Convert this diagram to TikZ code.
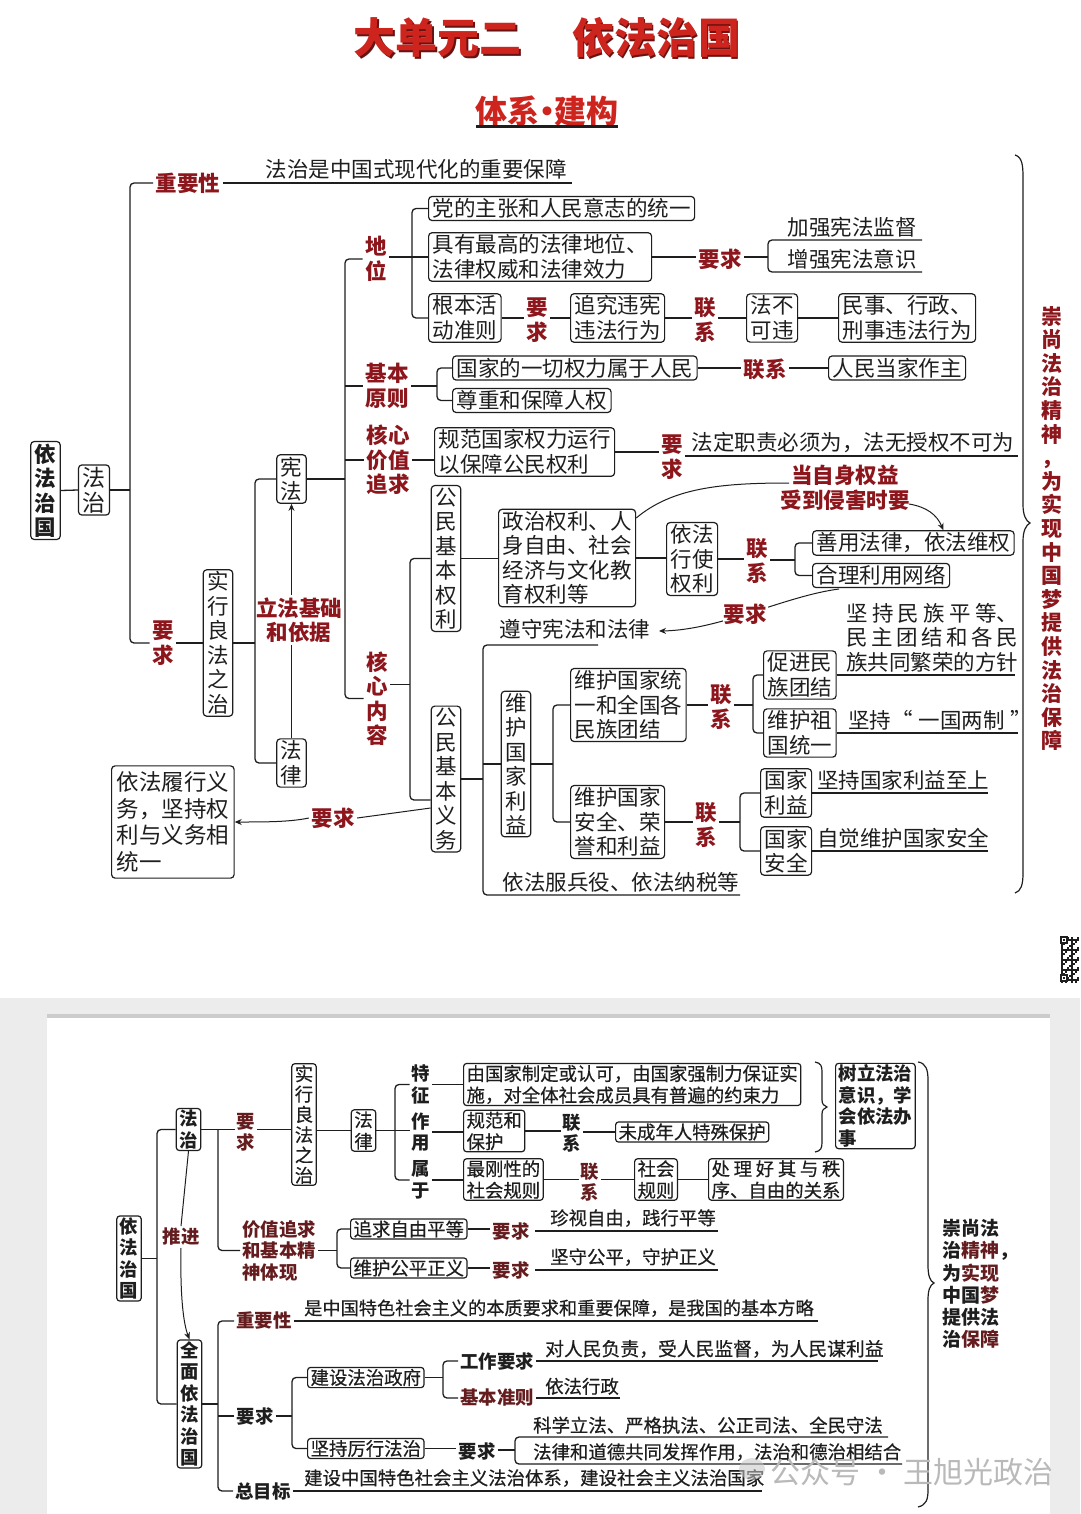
\documentclass[tikz,border=0pt]{standalone}
\usepackage{fontspec}
\setmainfont{Noto Sans CJK SC}
\newfontfamily\medfont{Noto Sans CJK SC}[FakeBold=0.5]
\usetikzlibrary{arrows.meta}
\definecolor{titred}{RGB}{206,36,30}
\definecolor{titsh}{RGB}{105,18,18}
\definecolor{labred}{RGB}{140,22,28}
\definecolor{botred}{RGB}{100,28,30}
\definecolor{lc}{RGB}{30,30,30}
\definecolor{bggray}{RGB}{236,236,236}
\newcommand\fsz[2]{\fontsize{#1}{#2}\selectfont}
\begin{document}
\begin{tikzpicture}[x=1pt,y=-1pt,
  every node/.style={inner sep=0pt},
  conn/.style={line width=1.3pt, draw=lc, rounded corners=4pt},
  thinl/.style={line width=1pt, draw=lc},
  arr/.style={-{Stealth[length=7pt,width=6pt]}},
  bx/.style={draw=lc, line width=1.2pt, rounded corners=3.5pt, inner xsep=4pt, inner ysep=2pt, align=left, font=\fsz{21.5}{24.5}, text=lc},
  vbx/.style={bx, align=center},
  lab/.style={text=labred, font=\bfseries\fsz{21.5}{24.5}, align=center, inner sep=2.5pt},
  txt/.style={font=\fsz{21.5}{24.5}, align=left, inner sep=0pt, text=lc},
  bbx/.style={draw=lc, line width=1.2pt, rounded corners=3pt, inner xsep=3pt, inner ysep=1.5pt, align=left, font=\medfont\fsz{18.4}{21.5}, text=lc},
  bvbx/.style={bbx, align=center},
  blab/.style={text=botred, font=\bfseries\fsz{18.4}{21.5}, align=center, inner sep=2pt},
  bblk/.style={text=lc, font=\bfseries\fsz{18.4}{21.5}, align=center, inner sep=2pt},
  btxt/.style={font=\medfont\fsz{18.4}{21.5}, align=left, inner sep=0pt, text=lc},
  brc/.style={line width=1.2pt, draw=lc}
]
\useasboundingbox (0,0) rectangle (1080,1514);
\fill[white] (0,0) rectangle (1080,1514);

% ---------------- Titles ----------------
\node[text=titsh, font=\bfseries\fsz{42}{42}] (titsh) at (548.5,39.5) {大单元二\hspace{1.2em}依法治国};
\node[text=titred, font=\bfseries\fsz{42}{42}] (title) at (547,38) {大单元二\hspace{1.2em}依法治国};
\node[text=titred, font=\bfseries\fsz{32}{32}] (sub) at (547,111) {体系\hspace{-0.28em}·\hspace{-0.28em}建构};
\draw[line width=2.2pt, lc] (sub.south west) -- (sub.south east);

% ---------------- Top tree ----------------
\node[vbx, font=\bfseries\fsz{21.5}{24.5}] (yfzg) at (45.5,490.5) {依\\法\\治\\国};
\node[vbx, font=\fsz{23}{25}] (fz) at (94,490) {法\\治};
\draw[conn] (yfzg.east) -- (fz.west);
\coordinate (sA) at (130,400);
\node[lab] (zys) at (188,183) {重要性};
\node[lab] (yqA) at (163,643) {要\\求};
\draw[conn] (zys.west) -| (sA) |- (yqA.west);
\draw[conn] (fz.east) -- (fz.east -| sA);
\coordinate (zyE) at (572,183);
\draw[conn] (zys.east) -- (zyE);
\node[txt, anchor=south] (zyT) at (416,179) {法治是中国式现代化的重要保障};

\node[vbx] (sxl) at (218,643) {实\\行\\良\\法\\之\\治};
\draw[conn] (yqA.east) -- (yqA.east -| sxl.west);
\coordinate (sB) at (255,620);
\node[vbx] (xf) at (291.5,479) {宪\\法};
\node[vbx] (fl) at (291.5,763) {法\\律};
\draw[conn] (xf.west) -| (sB) |- (fl.west);
\draw[conn] (sxl.east) -- (sxl.east -| sB);
\node[lab] (lfjc) at (299,620) {立法基础\\和依据};
\draw[thinl] (fl.north) -- (fl.north |- lfjc.south);
\draw[thinl, arr] (xf.south |- lfjc.north) -- (xf.south);

\coordinate (sC) at (345,480);
\node[lab] (dw) at (376,259) {地\\位};
\node[lab] (jbyz) at (387,386) {基本\\原则};
\node[lab] (hxjz) at (388,460) {核心\\价值\\追求};
\node[lab] (hxnr) at (377,698.5) {核\\心\\内\\容};
\draw[conn] (dw.west) -| (sC) |- (hxnr.west);
\draw[conn] (jbyz.west) -- (jbyz.west -| sC);
\draw[conn] (hxjz.west) -- (hxjz.west -| sC);
\draw[conn] (xf.east) -- (xf.east -| sC);

% 地位
\coordinate (sD) at (412,260);
\node[bx, anchor=west] (b1) at (428,208.5) {党的主张和人民意志的统一};
\node[bx, anchor=west] (b2) at (428,257) {具有最高的法律地位、\\法律权威和法律效力};
\node[bx, anchor=west] (b3) at (428,318) {根本活\\动准则};
\draw[conn] (b1.west) -| (sD) |- (b3.west);
\draw[conn] (dw.east |- b2.west) -- (b2.west);
\node[lab] (yqB) at (720,259) {要求};
\draw[conn] (b2.east) -- (b2.east -| yqB.west);
\coordinate (sE) at (768,257);
\coordinate (eTop) at (922,240);
\coordinate (eBot) at (922,272);
\draw[conn] (eTop) -| (sE) |- (eBot);
\draw[conn] (yqB.east |- sE) -- (sE);
\node[txt, anchor=south] (jqjd) at (852,238) {加强宪法监督};
\node[txt, anchor=south] (zqyx) at (852,270) {增强宪法意识};

\node[lab] (yqC) at (537,320) {要\\求};
\node[bx, anchor=west] (b4) at (570,318) {追究违宪\\违法行为};
\node[lab] (lxA) at (705,320) {联\\系};
\node[bx, anchor=west] (b5) at (746,318) {法不\\可违};
\node[bx, anchor=west] (b6) at (838,318) {民事、行政、\\刑事违法行为};
\draw[conn] (b3.east) -- (b3.east -| yqC.west);
\draw[conn] (yqC.east |- b4.west) -- (b4.west);
\draw[conn] (b4.east) -- (b4.east -| lxA.west);
\draw[conn] (lxA.east |- b5.west) -- (b5.west);
\draw[conn] (b5.east) -- (b6.west);

% 基本原则
\coordinate (sF) at (437,386);
\node[bx, anchor=west] (b7) at (452,368) {国家的一切权力属于人民};
\node[bx, anchor=west] (b8) at (452,400.5) {尊重和保障人权};
\draw[conn] (b7.west) -| (sF) |- (b8.west);
\draw[conn] (jbyz.east) -- (jbyz.east -| sF);
\node[lab] (lxB) at (765,369) {联系};
\node[bx, anchor=west] (b9) at (828,368) {人民当家作主};
\draw[conn] (b7.east) -- (b7.east -| lxB.west);
\draw[conn] (lxB.east |- b9.west) -- (b9.west);

% 核心价值追求
\node[bx, anchor=west] (b10) at (434,452) {规范国家权力运行\\以保障公民权利};
\draw[conn] (hxjz.east) -- (hxjz.east -| b10.west);
\node[lab] (yqD) at (672,457) {要\\求};
\draw[conn] (b10.east) -- (b10.east -| yqD.west);
\coordinate (fdE) at (1018,456);
\draw[conn] (yqD.east |- fdE) -- (fdE);
\node[txt, anchor=south] (fdzz) at (853,453) {法定职责必须为，法无授权不可为};

% 核心内容
\coordinate (sG) at (410,680);
\node[vbx] (b11) at (446,558.5) {公\\民\\基\\本\\权\\利};
\node[vbx] (b12) at (446,779) {公\\民\\基\\本\\义\\务};
\coordinate (b12w) at ([yshift=-21pt]b12.west);
\draw[conn] (b11.west) -| (sG) |- (b12w);
\coordinate (hxE) at ([yshift=14pt]hxnr.east);
\draw[conn] (hxE) -- (hxE -| sG);

\node[bx, anchor=west] (b13) at (498,558) {政治权利、人\\身自由、社会\\经济与文化教\\育权利等};
\draw[conn] (b11.east) -- (b11.east -| b13.west);
\node[bx, anchor=west, align=center] (b14) at (666,559) {依法\\行使\\权利};
\draw[conn] (b13.east) -- (b13.east -| b14.west);
\node[lab] (lxC) at (757,561) {联\\系};
\coordinate (sH) at (795,560);
\node[bx, anchor=west] (b15) at (812,543) {善用法律，依法维权};
\node[bx, anchor=west] (b16) at (812,575.5) {合理利用网络};
\draw[conn] (b14.east) -- (b14.east -| lxC.west);
\draw[conn] (lxC.east |- sH) -- (sH);
\draw[conn] (b15.west) -| (sH) |- (b16.west);

\node[lab] (qy) at (845,488) {当自身权益\\受到侵害时要};
\coordinate (qA) at (789,483);
\coordinate (qB) at (909,504);
\coordinate (b13ne) at ([yshift=40pt]b13.east);
\draw[thinl] (b13ne) .. controls (672,488) and (720,483) .. (qA);
\coordinate (b15n) at ([xshift=30pt]b15.north);
\draw[thinl, arr] (qB) .. controls (927,507) and (937,515) .. (b15n);

\node[txt] (zsxf) at (575,629) {遵守宪法和法律};
\coordinate (wA) at (839,589);
\coordinate (wB) at (659,631);
\draw[thinl, arr] (wA) .. controls (785,596) and (720,630) .. (wB);
\node[lab, fill=white, inner sep=1pt] (yqE) at (745,614) {要求};

% 公民基本义务
\coordinate (sI) at (483,770);
\coordinate (zsL) at (598,645);
\coordinate (fbE) at (740,895);
\draw[conn] (zsL) -| (sI) |- (fbE);
\draw[conn] (b12.east) -- (b12.east -| sI);
\node[txt, anchor=south] (fbyy) at (621,892) {依法服兵役、依法纳税等};
\node[vbx] (b17) at (516,764) {维\\护\\国\\家\\利\\益};
\draw[conn] (b17.west -| sI) -- (b17.west);
\coordinate (sJ) at (553,764);
\node[bx, anchor=west] (b18) at (570,705) {维护国家统\\一和全国各\\民族团结};
\node[bx, anchor=west] (b19) at (570,822) {维护国家\\安全、荣\\誉和利益};
\draw[conn] (b18.west) -| (sJ) |- (b19.west);
\draw[conn] (b17.east) -- (b17.east -| sJ);
\node[lab] (lxD) at (721,707) {联\\系};
\coordinate (sK) at (753,705);
\node[bx, anchor=west] (b20) at (763,675) {促进民\\族团结};
\node[bx, anchor=west] (b21) at (763,733) {维护祖\\国统一};
\draw[conn] (b18.east) -- (b18.east -| lxD.west);
\draw[conn] (lxD.east |- sK) -- (sK);
\draw[conn] (b20.west) -| (sK) |- (b21.west);
\coordinate (mzE) at (1015,676);
\draw[conn] (b20.east) -- (b20.east -| mzE);
\node[txt, anchor=south west] (mzpd) at (846,672) {\makebox[8em][s]{坚\hfil 持\hfil 民\hfil 族\hfil 平\hfil 等、}\\\makebox[8em][s]{民\hfil 主\hfil 团\hfil 结\hfil 和\hfil 各\hfil 民}\\族共同繁荣的方针};
\coordinate (ygE) at (1018,733);
\draw[conn] (b21.east) -- (b21.east -| ygE);
\node[txt, anchor=south west] (ygld) at (848,730) {坚持“\;一国两制\;”};

\node[lab] (lxE) at (706,825) {联\\系};
\coordinate (sL) at (740,822);
\node[bx, anchor=west] (b22) at (760,793) {国家\\利益};
\node[bx, anchor=west] (b23) at (760,851) {国家\\安全};
\draw[conn] (b19.east) -- (b19.east -| lxE.west);
\draw[conn] (lxE.east |- sL) -- (sL);
\draw[conn] (b22.west) -| (sL) |- (b23.west);
\coordinate (gjE) at (988,793);
\draw[conn] (b22.east) -- (b22.east -| gjE);
\node[txt, anchor=south west] (gjls) at (817,790) {坚持国家利益至上};
\coordinate (aqE) at (988,851);
\draw[conn] (b23.east) -- (b23.east -| aqE);
\node[txt, anchor=south west] (zjwh) at (817,848) {自觉维护国家安全};

\node[bx, anchor=west, font=\fsz{22.5}{26.5}, inner xsep=5pt, inner ysep=6pt] (b24) at (111,822) {依法履行义\\务，坚持权\\利与义务相\\统一};
\node[lab] (yqF) at (333,818) {要求};
\coordinate (b12a) at ([yshift=-29pt]b12.west);
\draw[thinl] (b12a) -- (yqF.east);
\draw[thinl, arr] (yqF.west) .. controls (290,822) and (265,822) .. (b24.east);

% right brace and text
\draw[brc] (1015,155) .. controls (1022,157) and (1023,165) .. (1023,177) -- (1023,505) .. controls (1023,515) and (1026,521) .. (1030,523) .. controls (1026,525) and (1023,531) .. (1023,541) -- (1023,873) .. controls (1023,885) and (1021,891) .. (1015,893);
\node[lab, font=\bfseries\fsz{21}{23.6}] (csfz) at (1052,528.5) {崇\\尚\\法\\治\\精\\神\\，\\为\\实\\现\\中\\国\\梦\\提\\供\\法\\治\\保\\障};

% QR code fragment
\foreach \i in {0,...,8}{\foreach \j in {0,...,22}{%
  \pgfmathtruncatemacro\q{mod(\i*7+\j*5+\i*\j*3,5)}%
  \ifnum\q<2 \fill[lc] (1061+2*\i,937+2*\j) rectangle ++(2,2);\fi}}
\fill[white] (1060,936) rectangle (1068,944);
\draw[lc, line width=1.5pt] (1061,937) rectangle (1067,943);
\fill[lc] (1063,939) rectangle (1065,941);
\fill[white] (1060,974) rectangle (1068,982);
\draw[lc, line width=1.5pt] (1061,975) rectangle (1067,981);
\fill[lc] (1063,977) rectangle (1065,979);

% ---------------- Bottom panel ----------------
\fill[bggray] (0,998) rectangle (1080,1514);
\fill[black!20] (47,1014) rectangle (1050,1018);
\fill[white] (47,1018) rectangle (1050,1514);

\node[bvbx, font=\bfseries\fsz{18.4}{21.5}] (c1) at (129,1258.5) {依\\法\\治\\国};
\node[bvbx, font=\bfseries\fsz{18.4}{21.5}] (c2) at (188.5,1129.5) {法\\治};
\node[bvbx, font=\bfseries\fsz{18.4}{21.5}] (c3) at (189.5,1404) {全\\面\\依\\法\\治\\国};
\coordinate (sM) at (157,1260);
\draw[conn] (c2.west) -| (sM) |- (c3.west);
\draw[conn] (c1.east) -- (c1.east -| sM);
\node[blab] (tj) at (181,1237) {推进};
\draw[thinl] (c2.south) -- (tj.north);
\draw[thinl, arr] (tj.south) .. controls (180,1300) and (184,1325) .. (c3.north);

\coordinate (sN) at (218,1190);
\node[blab] (yqN) at (246,1132.5) {要\\求};
\node[blab, align=left] (jzzq) at (279,1250.5) {价值追求\\和基本精\\神体现};
\draw[conn] (c2.east) -- (c2.east -| yqN.west);
\draw[conn] (c2.east -| sN) |- (jzzq.west);
\node[bvbx, font=\medfont\fsz{18.4}{20.3}] (c4) at (304,1124.5) {实\\行\\良\\法\\之\\治};
\draw[conn] (yqN.east |- c2.east) -- (c4.west |- c2.east);
\node[bvbx] (c5) at (363.5,1130.5) {法\\律};
\draw[conn] (c4.east |- c5.west) -- (c5.west);
\coordinate (sO) at (395,1130);
\node[bblk] (tz) at (421,1084.5) {特\\征};
\node[bblk] (zy2) at (421,1132) {作\\用};
\node[bblk] (sy) at (421,1180) {属\\于};
\draw[conn] (tz.west) -| (sO) |- (sy.west);
\draw[conn] (c5.east) -- (c5.east -| zy2.west);
\node[bbx, anchor=west] (cA) at (463,1084.5) {由国家制定或认可，由国家强制力保证实\\施，对全体社会成员具有普遍的约束力};
\draw[conn] (tz.east) -- (tz.east -| cA.west);
\node[bbx, anchor=west] (cB) at (463,1131) {规范和\\保护};
\draw[conn] (zy2.east) -- (zy2.east -| cB.west);
\node[bblk] (lxN1) at (572,1133) {联\\系};
\draw[conn] (cB.east) -- (cB.east -| lxN1.west);
\node[bbx, anchor=west] (cC) at (615,1132) {未成年人特殊保护};
\draw[conn] (lxN1.east |- cC.west) -- (cC.west);
\node[bbx, anchor=west] (cD) at (463,1179.5) {最刚性的\\社会规则};
\draw[conn] (sy.east) -- (sy.east -| cD.west);
\node[blab] (lxN2) at (590,1182) {联\\系};
\node[bbx, anchor=west] (cE) at (634,1179.5) {社会\\规则};
\node[bbx, anchor=west] (cF) at (708,1179.5) {\makebox[7em][s]{处\hfil 理\hfil 好\hfil 其\hfil 与\hfil 秩}\\序、自由的关系};
\draw[conn] (cD.east) -- (cD.east -| lxN2.west);
\draw[conn] (lxN2.east |- cE.west) -- (cE.west);
\draw[conn] (cE.east) -- (cF.west);

\draw[brc] (815,1062) .. controls (821,1063) and (822,1066) .. (822,1072) -- (822,1100) .. controls (822,1104) and (824,1106) .. (827,1107) .. controls (824,1108) and (822,1110) .. (822,1114) -- (822,1142) .. controls (822,1148) and (821,1151) .. (815,1152);
\node[bbx, anchor=west, font=\bfseries\fsz{18.4}{21.5}] (cG) at (835,1106) {树立法治\\意识，学\\会依法办\\事};
\draw[brc] (918,1062) .. controls (926,1063) and (928,1070) .. (928,1080) -- (928,1265) .. controls (928,1276) and (930,1281) .. (934,1283) .. controls (930,1285) and (928,1290) .. (928,1300) -- (928,1490) .. controls (928,1500) and (926,1505) .. (918,1507);
\node[bblk, align=left, anchor=west, font=\bfseries\fsz{19}{22.2}] (csb) at (940,1284) {崇尚法\\治{\color{botred}精神}，\\为{\color{botred}实现}\\中国{\color{botred}梦}\\提供法\\治{\color{botred}保障}};

\coordinate (sP) at (337,1250);
\node[bbx, anchor=west] (cH) at (350,1229) {追求自由平等};
\node[bbx, anchor=west] (cI) at (350,1268) {维护公平正义};
\draw[conn] (cH.west) -| (sP) |- (cI.west);
\draw[conn] (jzzq.east) -- (jzzq.east -| sP);
\node[blab] (yqN2) at (511,1231) {要求};
\node[blab] (yqN3) at (511,1270) {要求};
\draw[conn] (cH.east) -- (cH.east -| yqN2.west);
\draw[conn] (cI.east) -- (cI.east -| yqN3.west);
\coordinate (zs1) at (535,1231);
\coordinate (zs2) at (718,1231);
\draw[conn] (zs1) -- (zs2);
\node[btxt, anchor=south] (zszy) at (633,1227) {珍视自由，践行平等};
\coordinate (zs3) at (535,1270);
\coordinate (zs4) at (718,1270);
\draw[conn] (zs3) -- (zs4);
\node[btxt, anchor=south] (jsgp) at (633,1266) {坚守公平，守护正义};

\coordinate (sQ) at (218,1400);
\node[blab] (zysB) at (264,1321) {重要性};
\node[bblk] (yqQ) at (255,1416) {要求};
\node[bblk] (zmb) at (263,1491) {总目标};
\draw[conn] (zysB.west) -| (sQ) |- (zmb.west);
\draw[conn] (c3.east) -- (c3.east -| sQ);
\draw[conn] (yqQ.west) -- (yqQ.west -| sQ);
\coordinate (zyBE) at (818,1321);
\draw[conn] (zysB.east) -- (zyBE);
\node[btxt, anchor=south west, font=\medfont\fsz{18.2}{21}] (bzyq) at (304,1317) {是中国特色社会主义的本质要求和重要保障，是我国的基本方略};

\coordinate (sR) at (292,1413);
\node[bbx, anchor=west] (cJ) at (307,1377.5) {建设法治政府};
\node[bbx, anchor=west] (cK) at (307,1448.5) {坚持厉行法治};
\draw[conn] (cJ.west) -| (sR) |- (cK.west);
\draw[conn] (yqQ.east) -- (yqQ.east -| sR);
\coordinate (sS) at (443,1380);
\node[bblk] (gzyq) at (497,1361) {工作要求};
\node[blab] (jbzz) at (497,1398) {基本准则};
\draw[conn] (gzyq.west) -| (sS) |- (jbzz.west);
\draw[conn] (cJ.east) -- (cJ.east -| sS);
\coordinate (gzE) at (878,1361);
\draw[conn] (gzyq.east) -- (gzE);
\node[btxt, anchor=south west, font=\medfont\fsz{18.8}{22}] (drm) at (545,1358) {对人民负责，受人民监督，为人民谋利益};
\coordinate (jbE) at (620,1398);
\draw[conn] (jbzz.east) -- (jbE);
\node[btxt, anchor=south west] (yfxz) at (545,1395) {依法行政};

\node[bblk] (yqT) at (477,1451) {要求};
\draw[conn] (cK.east) -- (cK.east -| yqT.west);
\coordinate (sT) at (515,1450);
\coordinate (k1) at (888,1437);
\coordinate (k2) at (902,1464);
\draw[conn] (k1) -| (sT) |- (k2);
\draw[conn] (yqT.east |- sT) -- (sT);
\node[btxt, anchor=south west] (kxlf) at (533,1434) {科学立法、严格执法、公正司法、全民守法};
\node[btxt, anchor=south west] (flhd) at (533,1461) {法律和道德共同发挥作用，法治和德治相结合};
\coordinate (zmE) at (762,1491);
\draw[conn] (zmb.east) -- (zmE);
\node[btxt, anchor=south west] (jszg) at (304,1487) {建设中国特色社会主义法治体系，建设社会主义法治国家};

% watermark
\fill[gray!45, opacity=0.55] (752,1469) ellipse (13 and 11);
\node[text=gray!55, font=\fsz{30}{30}] (wm) at (912,1472) {公众号 · 王旭光政治};
\end{tikzpicture}
\end{document}
